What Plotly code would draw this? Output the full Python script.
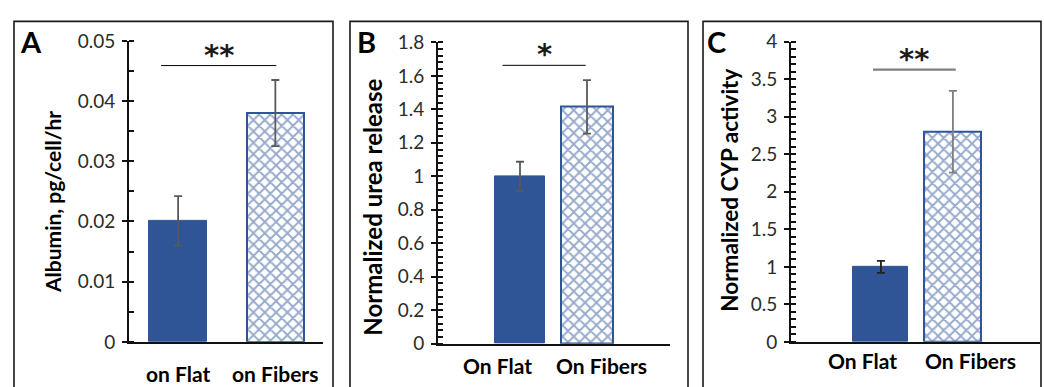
import plotly.graph_objects as go

W, H = 1044, 387

# ---------------- data ----------------
cat_pos = [0, 1]
labels_A = ["on Flat", "on Fibers"]
labels_BC = ["On Flat", "On Fibers"]

albumin = [0.0201, 0.0380]
albumin_err = [0.0041, 0.0055]
urea = [1.00, 1.415]
urea_err = [0.087, 0.160]
cyp = [1.00, 2.80]
cyp_err = [0.08, 0.545]

panel_letters = ["A", "B", "C"]
y_titles = ["Albumin, pg/cell/hr", "Normalized urea release", "Normalized CYP activity"]
sig_text = ["**", "*", "**"]
sig_y = [0.0459, 1.663, 3.63]
sig_x = [[-0.175, 1.01], [-0.26, 0.98], [-0.11, 1.04]]

# ---------------- styling ----------------
BLUE = "#2F5597"
ERR = "#595959"
FONT = "Lato"
AX = "#111111"


def px(x):
    return x / W


def py(y):
    return 1 - y / H


panels = [
    dict(vals=albumin, errs=albumin_err, labels=labels_A,
         xdom=[px(129), px(323)], ydom=[py(350.7), py(30.7)],
         xr=[-0.505, 1.49], yr=[0, 0.05], dtick=0.01, minor=0.005,
         width=[0.6, 0.58], errcol=[ERR, ERR],
         letter_xy=(31, 31), title_xy=(53, 202), title_size=21,
         xl_x=(178, 275), xl_y=384, border=(14, 333)),
    dict(vals=urea, errs=urea_err, labels=labels_BC,
         xdom=[px(438), px(670)], ydom=[py(352.7), py(32.3)],
         xr=[-1.224, 2.239], yr=[0, 1.8], dtick=0.2, minor=0.04,
         width=[0.76, 0.78], errcol=[ERR, ERR],
         letter_xy=(366, 31), title_xy=(373, 208), title_size=24,
         xl_x=(498, 601), xl_y=376, border=(350, 688)),
    dict(vals=cyp, errs=cyp_err, labels=labels_BC,
         xdom=[px(791), px(1040)], ydom=[py(350.7), py(31.7)],
         xr=[-1.249, 2.21], yr=[0, 4], dtick=0.5, minor=0.1,
         width=[0.765, 0.79], errcol=["#222222", "#7F7F7F"],
         letter_xy=(716, 31), title_xy=(730, 190), title_size=22.5,
         xl_x=(862, 970), xl_y=371, border=(703, 1041)),
]

fig = go.Figure()
annotations = []
shapes = []

for i, p in enumerate(panels):
    n = i + 1
    xa = "x" if n == 1 else f"x{n}"
    ya = "y" if n == 1 else f"y{n}"
    # solid bar
    fig.add_trace(go.Bar(
        x=[cat_pos[0]], y=[p["vals"][0]], width=p["width"][0],
        marker=dict(color=BLUE, line=dict(color=BLUE, width=1)),
        error_y=dict(type="data", array=[p["errs"][0]], color=p["errcol"][0],
                     thickness=1.8, width=4),
        xaxis=xa, yaxis=ya, showlegend=False))
    # patterned bar
    fig.add_trace(go.Bar(
        x=[cat_pos[1]], y=[p["vals"][1]], width=p["width"][1],
        marker=dict(color="white", line=dict(color=BLUE, width=2),
                    pattern=dict(shape="x", fgcolor=BLUE, bgcolor="white",
                                 size=8, solidity=0.42, fillmode="overlay")),
        error_y=dict(type="data", array=[p["errs"][1]], color=p["errcol"][1],
                     thickness=1.8, width=4),
        xaxis=xa, yaxis=ya, showlegend=False))

    xkey = "xaxis" if n == 1 else f"xaxis{n}"
    ykey = "yaxis" if n == 1 else f"yaxis{n}"
    fig.layout[xkey] = dict(domain=p["xdom"], range=p["xr"], anchor=ya,
                            showgrid=False, zeroline=False, showline=True,
                            linecolor=AX, linewidth=1.8,
                            showticklabels=False, ticks="", fixedrange=True)
    fig.layout[ykey] = dict(domain=p["ydom"], range=p["yr"], anchor=xa,
                            showgrid=False, zeroline=False, showline=True,
                            linecolor=AX, linewidth=1.8,
                            ticks="outside", ticklen=5, tickwidth=1.8,
                            tickcolor=AX, dtick=p["dtick"], tick0=0, ticklabelstandoff=3,
                            tickfont=dict(family=FONT, size=19, color="#2b2b2b"),
                            minor=dict(ticks="inside", ticklen=5, tickwidth=1.5,
                                       tickcolor=AX, dtick=p["minor"], tick0=0),
                            fixedrange=True)
    # overlay axis to get the inner half of "cross" major ticks
    ok = f"yaxis{n + 3}"
    fig.layout[ok] = dict(domain=p["ydom"], range=p["yr"], anchor=xa, overlaying=ya,
                          showgrid=False, zeroline=False, showline=False,
                          ticks="inside", ticklen=5, tickwidth=1.8, tickcolor=AX,
                          dtick=p["dtick"], tick0=0, showticklabels=False, fixedrange=True)
    fig.add_trace(go.Scatter(x=[None], y=[None], xaxis=xa, yaxis=f"y{n + 3}",
                             showlegend=False, hoverinfo="skip"))

    # category labels
    for lx, lab in zip(p["xl_x"], p["labels"]):
        annotations.append(dict(x=px(lx), xref="paper", y=py(p["xl_y"]), yref="paper",
                                text=f"<b>{lab}</b>", showarrow=False,
                                xanchor="center", yanchor="middle",
                                font=dict(family=FONT, size=21, color="black")))
    # panel letter
    annotations.append(dict(x=px(p["letter_xy"][0]), y=py(p["letter_xy"][1]),
                            xref="paper", yref="paper", text=f"<b>{panel_letters[i]}</b>",
                            showarrow=False, xanchor="center", yanchor="middle",
                            font=dict(family=FONT, size=29, color="black")))
    # y title
    annotations.append(dict(x=px(p["title_xy"][0]), y=py(p["title_xy"][1]),
                            xref="paper", yref="paper", text=f"<b>{y_titles[i]}</b>",
                            textangle=-90, showarrow=False, xanchor="center",
                            yanchor="middle",
                            font=dict(family=FONT, size=p["title_size"], color="black")))
    # significance bracket
    lc = "#7F7F7F" if i == 2 else "black"
    lw = 2.2 if i == 2 else 1
    shapes.append(dict(type="line", xref=xa, yref=ya,
                       x0=sig_x[i][0], x1=sig_x[i][1], y0=sig_y[i], y1=sig_y[i],
                       line=dict(color=lc, width=lw)))
    annotations.append(dict(x=(sig_x[i][0] + sig_x[i][1]) / 2, xref=xa,
                            y=sig_y[i], yref=ya, text=f"<b>{sig_text[i]}</b>",
                            showarrow=False, xanchor="center", yanchor="bottom",
                            yshift=-8,
                            font=dict(family="DejaVu Sans", size=29, color="#1a1a1a")))
    # panel border
    shapes.append(dict(type="rect", xref="paper", yref="paper",
                       x0=px(p["border"][0]), x1=px(p["border"][1]),
                       y0=-0.1, y1=py(10),
                       line=dict(color="#1a1a1a", width=1.6), fillcolor="rgba(0,0,0,0)"))

fig.update_layout(width=W, height=H, margin=dict(l=0, r=0, t=0, b=0),
                  paper_bgcolor="white", plot_bgcolor="rgba(0,0,0,0)",
                  annotations=annotations, shapes=shapes, bargap=0,
                  font=dict(family=FONT))

fig.write_html("out.html")
